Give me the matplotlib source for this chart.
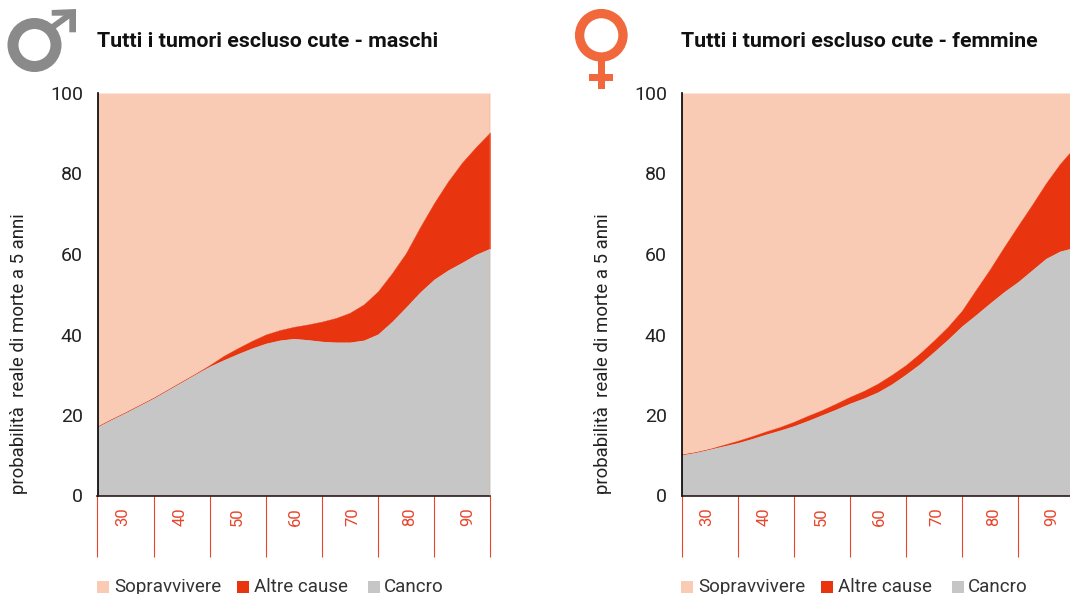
import numpy as np
import matplotlib
matplotlib.use("Agg")
import matplotlib.pyplot as plt
from matplotlib.patches import Circle, Polygon, Rectangle

plt.rcParams['font.family'] = ['Roboto', 'DejaVu Sans']

# age along x, one reading every 2.5 years
ages = [25, 27.5, 30, 32.5, 35, 37.5, 40, 42.5, 45, 47.5, 50, 52.5, 55, 57.5, 60,
        62.5, 65, 67.5, 70, 72.5, 75, 77.5, 80, 82.5, 85, 87.5, 90, 92.5, 95]
decades = [30, 40, 50, 60, 70, 80, 90]
bin_edges = [25, 35, 45, 55, 65, 75, 85, 95]
yticks = [0, 20, 40, 60, 80, 100]

# values are stacked: cancer curve, then cancer + other causes
male_cancer = [17.1, 18.9, 20.6, 22.4, 24.2, 26.2, 28.2, 30.2, 32.1, 33.7, 35.2, 36.6, 37.8, 38.6, 39.0,
               38.7, 38.3, 38.1, 38.1, 38.6, 40.1, 43.2, 46.8, 50.5, 53.7, 56.0, 57.9, 59.9, 61.4]
male_total = [17.2, 19.0, 20.7, 22.5, 24.3, 26.3, 28.3, 30.3, 32.4, 34.7, 36.6, 38.4, 40.0, 41.1, 41.9,
              42.5, 43.2, 44.1, 45.4, 47.5, 50.7, 55.2, 60.2, 66.6, 72.6, 78.0, 82.7, 86.6, 90.2]
female_cancer = [10.1, 10.7, 11.5, 12.3, 13.1, 14.1, 15.2, 16.2, 17.3, 18.6, 20.0, 21.4, 22.9, 24.2, 25.7,
                 27.7, 30.1, 32.7, 35.7, 38.8, 42.1, 44.9, 47.8, 50.6, 53.1, 56.0, 58.9, 60.7, 61.6]
female_total = [10.2, 10.8, 11.6, 12.6, 13.6, 14.7, 15.9, 17.0, 18.3, 19.8, 21.2, 22.8, 24.5, 26.0, 27.8,
                30.0, 32.4, 35.3, 38.5, 41.9, 45.9, 51.1, 56.2, 61.7, 67.0, 72.2, 77.6, 82.4, 86.4]

PALE = "#F9CBB4"
RED = "#E83510"
GRAY = "#C6C6C6"
TICKRED = "#E8452C"

W, H = 1070, 594
fig = plt.figure(figsize=(W / 100, H / 100), dpi=100)

# overlay in pixel units for the titles, legends and gender symbols
over = fig.add_axes([0, 0, 1, 1], zorder=5)
over.set_xlim(0, W)
over.set_ylim(H, 0)
over.axis("off")


def panel(left, cancer, total, title):
    ax = fig.add_axes([left / W, (H - 495.5) / H, 392.5 / W, 402.5 / H])
    ax.fill_between(ages, total, 100, color=PALE, lw=0)
    ax.fill_between(ages, cancer, total, facecolor=RED, edgecolor=RED, lw=0.3)
    ax.fill_between(ages, 0, cancer, color=GRAY, lw=0)
    ax.vlines(95, 0, 100, color="#F29A80", lw=1, zorder=3)
    ax.set_xlim(25, 95)
    ax.set_ylim(0, 100)
    ax.set_xticks([])
    ax.set_yticks(yticks)
    ax.tick_params(axis="y", length=0, pad=10.5, labelsize=14, labelcolor="#222222")
    for s in ["top", "right"]:
        ax.spines[s].set_visible(False)
    ax.spines["left"].set_linewidth(1.2)
    ax.spines["bottom"].set_linewidth(1.2)
    ax.spines["bottom"].set_color("#2a1a18")
    ax.vlines(bin_edges, -15.2, 0, color=TICKRED, lw=0.8, clip_on=False)
    # the decade labels drift right of their bins in the original
    for i, d in enumerate(decades):
        over.text(left + 25 + 57.5 * i, 517, str(d), rotation=90, ha="center", va="center",
                  color=TICKRED, fontsize=12)
    over.text(left - 0.5, 47, title, fontsize=15.4, fontweight="bold", color="#111111", va="baseline")
    over.text(left - 78.5, 354, "probabilità  reale di morte a 5 anni", rotation=90,
              ha="center", va="center", fontsize=13.4, color="#222222")
    legend = [(0, 17, "Sopravvivere", PALE), (140, 157, "Altre cause", RED), (271, 287, "Cancro", GRAY)]
    for off, txt_off, label, col in legend:
        over.add_patch(Rectangle((left - 0.5 + off, 581), 12, 12, color=col, lw=0))
        over.text(left - 0.5 + txt_off, 592, label, fontsize=13.5, color="#333333", va="baseline")
    return ax


panel(97.5, male_cancer, male_total, "Tutti i tumori escluso cute - maschi")
panel(681.5, female_cancer, female_total, "Tutti i tumori escluso cute - femmine")

# male symbol
MALE_COL = "#8A8A8A"
over.add_patch(Circle((34.5, 45), 21.5, fill=False, ec=MALE_COL, lw=11 * 0.72))
over.plot([50, 72], [29, 13], color=MALE_COL, lw=6 * 0.72, solid_capstyle="butt")
over.add_patch(Polygon([(51.7, 10), (76, 9), (76, 32.3), (69.3, 32.3), (69.3, 15.7), (51.7, 15.7)],
                       color=MALE_COL, lw=0))

# female symbol
FEMALE_COL = "#F0683C"
over.add_patch(Circle((601.3, 35.3), 21.7, fill=False, ec=FEMALE_COL, lw=9.3 * 0.72))
over.add_patch(Rectangle((597.7, 61), 7.3, 28.3, color=FEMALE_COL, lw=0))
over.add_patch(Rectangle((589.3, 74.3), 24, 6.7, color=FEMALE_COL, lw=0))

fig.savefig("out.png", dpi=100)
